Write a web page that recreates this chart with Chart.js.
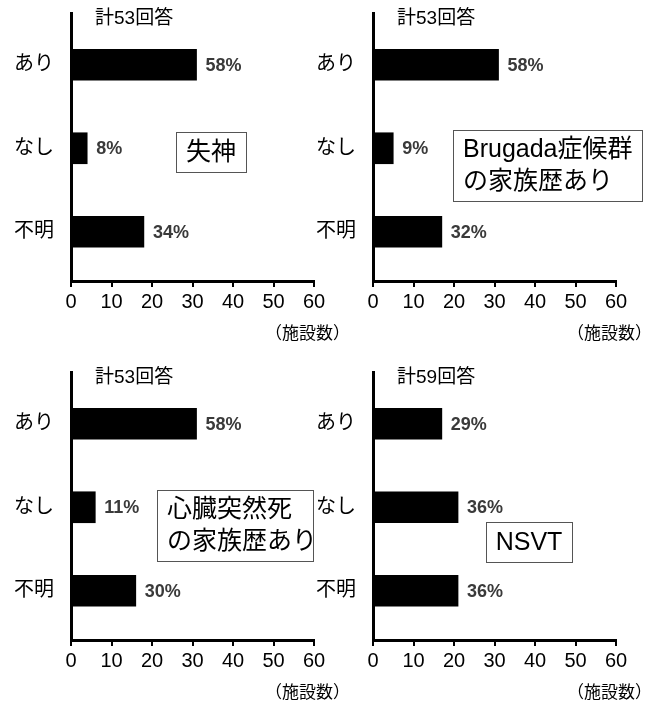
<!DOCTYPE html>
<html lang="ja">
<head>
<meta charset="utf-8">
<title>施設数</title>
<script src="https://cdn.jsdelivr.net/npm/chart.js@4.4.1/dist/chart.umd.min.js"></script>
<style>
  html, body { margin: 0; padding: 0; background: #fff; }
  #grid { position: relative; width: 652px; height: 702px; overflow: hidden; }
  #grid canvas { position: absolute; }
</style>
</head>
<body>
<div id="grid">
  <canvas id="syncope" width="350" height="350" style="left:0;top:0"></canvas>
  <canvas id="brugada" width="350" height="350" style="left:302px;top:0"></canvas>
  <canvas id="suddenDeath" width="350" height="350" style="left:0;top:359px"></canvas>
  <canvas id="nsvt" width="350" height="350" style="left:302px;top:359px"></canvas>
</div>
<script>
// answers per category (number of facilities)
const categories = ['あり', 'なし', '不明'];
const syncopeCounts = [31, 4, 18];
const brugadaFamilyCounts = [31, 5, 17];
const suddenDeathFamilyCounts = [31, 6, 16];
const nsvtCounts = [17, 21, 21];

const xMax = 60;
const xStep = 10;
const unitLabel = '（施設数）';

const LATIN = '"Liberation Sans", "Noto Sans CJK JP", sans-serif';

// titles, percentages, unit label and the boxed caption
const panelDecor = {
    id: 'panelDecor',
    afterDraw(chart) {
        const ctx = chart.ctx;
        const opts = chart.options.plugins.panelDecor;
        const counts = chart.data.datasets[0].data.map(d => d.x);
        const total = counts.reduce((a, b) => a + b, 0);

        ctx.save();
        ctx.fillStyle = '#000';
        ctx.textBaseline = 'middle';
        ctx.textAlign = 'left';
        ctx.font = '19px ' + LATIN;
        ctx.fillText('計' + total + '回答', 95, 19);

        // percentage next to each bar
        ctx.font = 'bold 18px ' + LATIN;
        ctx.fillStyle = '#3a3a3a';
        chart.getDatasetMeta(0).data.forEach((bar, i) => {
            const pct = Math.round(counts[i] / total * 100);
            ctx.fillText(pct + '%', bar.x + 9, bar.y + 1);
        });

        // unit under the x axis
        ctx.fillStyle = '#000';
        ctx.font = '17px ' + LATIN;
        ctx.textAlign = 'right';
        ctx.fillText(unitLabel, chart.width, 334);

        // caption box
        const b = opts.box;
        ctx.strokeStyle = '#555';
        ctx.lineWidth = 1;
        ctx.strokeRect(b.x + 0.5, b.y + 0.5, b.w, b.h);
        ctx.font = '25px ' + LATIN;
        ctx.textAlign = opts.center ? 'center' : 'left';
        const lh = 32;
        const y0 = b.y + b.h / 2 - (opts.lines.length - 1) * lh / 2;
        opts.lines.forEach((line, i) => {
            const tx = opts.center ? b.x + b.w / 2 : b.x + 10;
            ctx.fillText(line, tx, y0 + i * lh + 1);
        });
        ctx.restore();
    }
};

function makePanel(id, counts, lines, box, center) {
    return new Chart(document.getElementById(id), {
        type: 'bar',
        data: {
            datasets: [{
                data: counts.map((v, i) => ({ x: v, y: i })),
                backgroundColor: '#000',
                borderWidth: 0,
                barThickness: 31
            }]
        },
        options: {
            indexAxis: 'y',
            responsive: false,
            animation: false,
            layout: { padding: { top: 13, right: 36, left: 0, bottom: 0 } },
            plugins: {
                legend: { display: false },
                tooltip: { enabled: false },
                panelDecor: { lines: lines, box: box, center: center }
            },
            scales: {
                x: {
                    type: 'linear',
                    min: 0,
                    max: xMax,
                    ticks: {
                        stepSize: xStep,
                        color: '#000',
                        padding: 3,
                        maxRotation: 0,
                        font: { size: 20, family: LATIN }
                    },
                    grid: {
                        drawOnChartArea: false,
                        drawTicks: true,
                        tickLength: 6,
                        color: '#000',
                        lineWidth: 2
                    },
                    border: { color: '#000', width: 3 },
                    afterFit(scale) {
                        scale.height = 69;
                        scale.paddingLeft = 0;
                        scale.paddingRight = 0;
                    }
                },
                y: {
                    type: 'linear',
                    reverse: true,
                    offset: false,
                    min: -0.62,
                    max: 2.59,
                    afterBuildTicks(scale) {
                        scale.ticks = categories.map((_, i) => ({ value: i }));
                    },
                    ticks: {
                        callback: (v) => categories[v],
                        color: '#000',
                        padding: 17,
                        font: { size: 20, family: LATIN }
                    },
                    grid: { display: false, drawTicks: false, offset: false },
                    border: { color: '#000', width: 3 },
                    afterFit(scale) {
                        scale.width = 71;
                        scale.paddingTop = 0;
                        scale.paddingBottom = 0;
                    }
                }
            }
        },
        plugins: [panelDecor]
    });
}

makePanel('syncope', syncopeCounts, ['失神'], { x: 176, y: 132, w: 70, h: 40 }, true);
makePanel('brugada', brugadaFamilyCounts, ['Brugada症候群', 'の家族歴あり'], { x: 151, y: 130, w: 189, h: 71 }, false);
makePanel('suddenDeath', suddenDeathFamilyCounts, ['心臓突然死', 'の家族歴あり'], { x: 157, y: 131, w: 156, h: 71 }, false);
makePanel('nsvt', nsvtCounts, ['NSVT'], { x: 184, y: 163, w: 86, h: 40 }, true);
</script>
</body>
</html>
